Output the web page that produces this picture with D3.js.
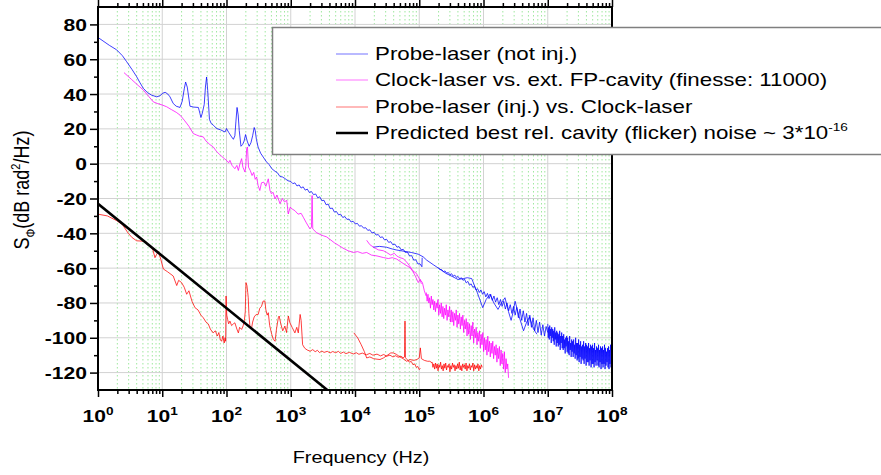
<!DOCTYPE html>
<html>
<head>
<meta charset="utf-8">
<script src="https://cdn.jsdelivr.net/npm/d3@7"></script>
<style>
body { margin: 0; background: #fff; }
svg { display: block; }
text { font-family: "Liberation Sans", Arial, sans-serif; fill: #000; }
</style>
</head>
<body>
<div id="chart"></div>
<script>
// ---- data: [frequency (Hz), S_phi (dB rad^2/Hz)] ----
const xExponents = [0, 1, 2, 3, 4, 5, 6, 7, 8];
const yTicks = [-120, -100, -80, -60, -40, -20, 0, 20, 40, 60, 80];
const yMinor = [-110, -90, -70, -50, -30, -10, 10, 30, 50, 70];

const seriesNames = [
    "Probe-laser (not inj.)",
    "Clock-laser vs. ext. FP-cavity (finesse: 11000)",
    "Probe-laser (inj.) vs. Clock-laser",
    "Predicted best rel. cavity (flicker) noise ~ 3*10"
];

// probe laser, not injected
const probeA = [[1,72.5],[1.5,68],[1.95,65.4],[2.4,62],[2.79,58.6],[3.4,54],[3.99,50],[4.5,46.5],[5.07,43.3],[5.9,40.8],[6.8,39.4],[8.2,38.4],[9.2,39],[10.2,40.5],[11.1,41],[12.2,40],[13.2,38.4],[14.8,34.6],[16.5,33],[18.9,32.3],[20.5,36],[22,43],[23.1,46.9],[24.5,44],[27,33],[31,32.5],[36.5,32.3],[38.5,29],[40,26.5],[42,29],[45,34],[47,44],[49,49.8],[51,42],[54.3,25.4],[58,23],[63,22],[70,20.2],[80,19.5],[95,18.2],[100,20.2],[108,18],[120,15.4],[128,14],[135,16],[140,24],[146,32.3],[152,28],[158,19],[168,10],[178,11],[188,13],[198,16.7],[210,13],[225,10],[240,12],[255,16],[270,20.8],[280,19],[292,14],[310,9.6],[340,6],[373,3.8],[420,1],[460,-0.5],[508,-2.9],[570,-4.4],[620,-5.2],[680,-7.4],[740,-7.6],[810,-8.5],[900,-9.8],[1000,-10.2],[1080,-11.5],[1160,-11],[1250,-12.8],[1350,-12.2],[1450,-14],[1560,-13.3],[1680,-15.2],[1810,-14.6],[1950,-16.6],[2100,-16],[2260,-17.8],[2440,-17.4],[2630,-19.6],[2830,-19],[3050,-21.3],[3290,-21],[3550,-23.6],[3820,-23.2],[4120,-25.8],[4440,-25.5],[4780,-27.8],[5150,-27.5],[5550,-29.4],[5980,-29],[6450,-30.9],[6950,-30.4],[7490,-32],[8070,-31.8],[8700,-33.5],[9370,-33.1],[10100,-34.6],[10900,-34.3],[11700,-35.9],[12600,-35.6],[13600,-37],[14700,-36.8],[15800,-38.3],[17000,-38],[18400,-39.8],[19800,-39.4],[21300,-41],[23000,-40.7],[24800,-42.4],[26700,-42],[28800,-43.8],[31000,-43.4],[33400,-45.2],[36000,-44.8],[38800,-46.6],[41800,-46.2],[45000,-48],[48500,-47.6],[52300,-49.5],[56400,-49.2],[60800,-51],[65500,-50.8],[70600,-53],[76100,-52.8],[82000,-55.4],[88400,-55.2],[95300,-57.6],[102700,-57.5],[110000,-59.2],[111000,-54]];
const probeB = [[19000,-48],[24000,-47.5],[31000,-48],[38000,-49],[44600,-49.6],[52000,-50],[60000,-50.4],[75000,-51],[96600,-52],[115000,-53.5],[130600,-55.4],[165000,-58],[210000,-60.6],[260000,-63],[335000,-65],[400000,-66.5],[485000,-66],[560000,-65.5],[655000,-66],[800000,-74],[972000,-82.7],[1100000,-78],[1260000,-75],[1450000,-80],[1680000,-83.7],[1900000,-80],[2160000,-77],[2450000,-85],[2690000,-90],[2900000,-85],[3100000,-79],[3600000,-88],[4200000,-96],[4700000,-91],[5200000,-88],[6000000,-95],[6800000,-98]];
// analyser sweeps, samples equally spaced in log10(f) between the two exponents
const probeTail1Range = [5.3, 7.0];
const probeTail1 = [-60.0,-60.8,-60.9,-62.0,-61.6,-62.9,-62.5,-63.8,-63.2,-64.6,-64.0,-65.3,-64.8,-66.2,-65.5,-67.0,-66.4,-68.5,-67.6,-69.8,-69.0,-71.0,-70.4,-72.6,-71.8,-74.0,-72.5,-75.0,-73.5,-76.5,-74.5,-77.5,-75.0,-78.5,-76.0,-79.5,-77.0,-81.0,-78.0,-82.0,-79.0,-83.5,-80.0,-84.5,-81.0,-86.0,-82.0,-87.0,-82.5,-88.5,-83.5,-90.0,-84.5,-91.0,-86.0,-93.0,-87.0,-94.0,-88.5,-96.0,-90.0,-97.0,-91.0,-98.5,-92.5,-99.0,-93.5,-97.0];
const probeTail2Range = [7.0, 8.0];
const probeTail2 = [-92,-100,-94,-101,-93,-99,-95,-103,-94,-100,-95,-102,-96,-104,-94,-101,-97,-105,-96,-103,-97,-105,-98,-104,-96,-107,-99,-103,-97,-106,-99,-107,-98,-106,-101,-109,-100,-105,-99,-108,-100,-109,-102,-110,-99,-107,-103,-111,-101,-108,-102,-111,-101,-109,-104,-112,-100,-110,-103,-113,-103,-112,-101,-114,-104,-111,-102,-115,-105,-112,-104,-113,-102,-115,-105,-112,-103,-116,-104,-114,-105,-114,-103,-116,-106,-113,-104,-117,-105,-115,-104,-115,-106,-117,-103,-114,-107,-116,-105,-113,-106,-116,-104,-117,-107,-114,-105,-118,-106,-115,-105,-117,-107,-115,-104,-118,-106,-116,-108,-114,-106,-117,-105,-118,-107,-115,-104,-117,-109,-113];

// clock laser vs. external FP cavity
const clockA = [[2.54,52.3],[3.3,48.5],[4.2,45],[5.07,42.3],[6.2,38.5],[7.26,35.5],[8.5,34.5],[10,33.7],[11.7,32.7],[14,31],[16.5,29.5],[18.9,27.9],[22,25],[26,21.5],[30.4,17.3],[34,16.5],[38,15.8],[43.5,15.4],[48,13],[55,11],[62.3,9.6],[70,7],[77,5.5],[84.2,4.2],[92,3],[100,1.9],[108,0.5],[113,1.9],[122,-1],[135,-2.9],[145,-1],[153,-3.9],[162,0],[172,2.9],[180,-2],[194,-4.8],[200,-1],[206,8.7],[212,9.6],[220,-2],[235,-4],[250,-6.8],[265,-5],[280,-9],[295,-7.7],[310,-12.5],[330,-15.4],[350,-11],[380,-10.6],[410,-13],[447,-8.7],[475,-15.4],[500,-17.3],[530,-16.4],[570,-20.2],[610,-18],[681,-23],[740,-20],[800,-22],[865,-21],[915,-28.9],[980,-25],[1050,-26],[1160,-27],[1300,-29],[1450,-28.5],[1570,-30.8],[1750,-34],[1990,-37.5],[2100,-36.5],[2150,-18.3],[2200,-37.5],[2500,-39.5],[2800,-40.5],[3210,-41.4],[3600,-42],[4080,-43.5],[4800,-45.5],[5600,-47],[6500,-48.5],[7800,-50],[9400,-51],[11000,-50.5],[13000,-51.5],[15200,-51],[18000,-52.5],[22000,-53],[27600,-53.9],[33000,-54.5],[38000,-54],[44600,-54.8],[52000,-56.5],[60000,-58],[71800,-59.7],[80000,-62],[88000,-65],[96600,-68.3],[103000,-66.5],[108000,-69]];
const clockB = [[15200,-44],[17000,-46.5],[19500,-48],[23000,-49.5],[27600,-50],[31000,-51],[36000,-52.5],[41000,-51.5],[44600,-53],[50000,-54],[56000,-54.5],[62000,-56],[70000,-58.5],[80000,-61.6],[90000,-63],[100000,-66],[112000,-68.3],[120000,-73],[128000,-76]];
const clockTailRange = [5.11, 6.39];
const clockTail = [-74,-79,-75,-80,-77,-83,-76,-81,-78,-84,-79,-85,-80,-83,-78,-87,-81,-86,-80,-88,-82,-89,-83,-87,-81,-90,-84,-88,-82,-91,-84,-91,-85,-93,-86,-90,-84,-94,-87,-92,-86,-95,-88,-93,-87,-97,-90,-95,-89,-99,-91,-98,-92,-101,-93,-99,-91,-103,-95,-100,-94,-104,-97,-102,-96,-106,-98,-104,-97,-108,-100,-107,-101,-110,-99,-108,-102,-111,-103,-109,-102,-112,-105,-110,-104,-114,-106,-112,-105,-116,-107,-115,-109,-118,-108,-120,-112,-118,-115,-123];

// probe laser (injected) vs. clock laser
const injA = [[1,-29],[1.4,-30],[1.95,-32.7],[2.4,-35],[2.96,-40],[3.4,-42.5],[4,-44.3],[5,-44.5],[5.7,-45.2],[6.4,-47.5],[7.1,-49],[7.7,-54],[8.2,-52],[8.7,-50.5],[9.5,-55],[10.4,-60.5],[12,-62],[14.8,-64.5],[16.8,-70],[18,-67],[20,-68.3],[22,-71],[24,-75],[26,-73],[29,-79],[32.3,-82.7],[36,-84],[40,-87],[43.5,-88.5],[48,-91],[52,-92],[56,-95],[62,-97.2],[67,-96],[72,-99],[76,-97],[80,-101],[84,-102],[88,-99],[92,-103],[95,-100],[97,-102],[98.5,-76],[101,-87],[104,-89.4],[108,-92],[113,-90.4],[120,-93],[128,-92],[135,-91.4],[145,-95],[153,-97.2],[160,-94],[172,-95.2],[182,-93],[190,-90],[196,-85],[201,-68.3],[208,-70],[214,-74],[218,-77],[223,-86],[232,-94],[246,-94.3],[255,-91],[270,-88],[290,-86.6],[311,-86.6],[330,-83],[350,-82],[372,-78.9],[396,-78.9],[410,-84],[430,-87],[447,-85.6],[470,-93],[506,-98],[537,-101],[570,-102],[600,-95],[640,-88.5],[660,-87.5],[700,-92],[750,-96],[810,-93.3],[860,-97],[917,-87.5],[970,-91.4],[1050,-94],[1160,-97.2],[1240,-94],[1310,-97.2],[1400,-86.6],[1450,-90],[1530,-104],[1650,-106],[1800,-107],[2000,-107.7],[2200,-106.8],[2400,-108],[2600,-107.2],[2800,-108.5],[3050,-107.6],[3300,-108.4],[3700,-107.8],[4100,-108.7],[4500,-107.9],[5000,-108.6],[5500,-107.8],[6000,-109],[6600,-108.2],[7200,-109.1],[8200,-108.4],[9400,-109.3],[10500,-108.6],[11500,-109.5],[13000,-108.8],[15000,-109.8],[17000,-109],[19000,-110],[22000,-109.4],[25000,-110.4],[28000,-109.6],[31000,-110.6],[35000,-110],[39000,-111],[43000,-110.3],[47000,-111.2],[52000,-110.6],[56000,-111.5],[59000,-111],[60000,-90.4],[61000,-111.5],[66000,-112.8],[70000,-114],[75000,-113.6],[80000,-115.5],[85000,-115],[90000,-117],[95000,-116.5],[100000,-118.3],[104000,-117.5]];
const injB = [[9600,-97.2],[11000,-100],[12500,-104],[14000,-108],[15200,-111.6],[17000,-111],[19500,-112],[22000,-112.3],[24500,-112.5],[28000,-111.5],[32000,-110],[36000,-108.7],[39400,-108.7],[44000,-109.5],[50000,-111],[56000,-112],[63600,-113.5],[72000,-112.5],[82000,-113],[92000,-112.5],[100000,-111.5],[104000,-105.8],[108000,-112],[120000,-113],[135000,-113.5],[146000,-113.5],[160000,-114.5]];
const injTailRange = [5.2, 5.98];
const injTail = [-114,-117,-115,-118,-114.5,-117.5,-115,-119,-115.5,-117,-114,-118,-116,-119,-115,-117.5,-114.5,-118.5,-116,-117,-115,-119.5,-116,-118,-114.5,-117,-115.5,-119,-116,-118,-115,-117.5,-114,-118.5,-116,-119,-115,-117,-115.5,-118,-114.5,-119,-116,-117.5,-115,-118.5,-116,-117,-114.5,-119,-115.5,-118,-116,-117.5,-115,-119,-116,-118,-115.5,-117];

// predicted flicker floor
const predicted = [[1,-23],[4000,-131]];

// ---- drawing ----
const W = 881, H = 475;
const box = {left: 98, right: 612, top: 7, bottom: 390};
const stretch = 1.24;   // the original export is stretched sideways

const x = d3.scaleLog().domain([1, 1e8]).range([box.left, box.right]);
const y = d3.scaleLinear().domain([-130, 90]).range([box.bottom, box.top]);

const svg = d3.select("#chart").append("svg")
    .attr("width", W)
    .attr("height", H);

svg.append("rect").attr("width", W).attr("height", H).attr("fill", "#fff");

svg.append("clipPath").attr("id", "plot-clip")
    .append("rect")
    .attr("x", box.left).attr("y", box.top)
    .attr("width", box.right - box.left).attr("height", box.bottom - box.top);

const isDecade = v => Math.abs(Math.log10(v) - Math.round(Math.log10(v))) < 1e-9;
const decades = xExponents.map(e => Math.pow(10, e));
const minorX = x.ticks().filter(v => !isDecade(v));

// grid
const grid = svg.append("g").attr("id", "grid");
grid.selectAll("line.minor")
    .data(minorX)
    .join("line")
    .attr("class", "minor")
    .attr("x1", d => x(d)).attr("x2", d => x(d))
    .attr("y1", box.top).attr("y2", box.bottom)
    .attr("stroke", "#9fe89f")
    .attr("stroke-width", 1)
    .attr("stroke-dasharray", "1.5,2.5");
grid.selectAll("line.vmajor")
    .data(decades.slice(1, -1))
    .join("line")
    .attr("class", "vmajor")
    .attr("x1", d => x(d)).attr("x2", d => x(d))
    .attr("y1", box.top).attr("y2", box.bottom)
    .attr("stroke", "#d2d2d2");
grid.selectAll("line.hmajor")
    .data(yTicks)
    .join("line")
    .attr("class", "hmajor")
    .attr("x1", box.left).attr("x2", box.right)
    .attr("y1", d => y(d)).attr("y2", d => y(d))
    .attr("stroke", "#d2d2d2");

// series
const line = d3.line().x(d => x(d[0])).y(d => y(d[1]));
const fromGrid = (range, vals) => vals.map((v, i) =>
    [Math.pow(10, range[0] + (range[1] - range[0]) * i / (vals.length - 1)), v]);

const traces = [
    {data: probeA, colour: "#0000ff"},
    {data: probeB, colour: "#0000ff"},
    {data: fromGrid(probeTail1Range, probeTail1), colour: "#0000ff"},
    {data: fromGrid(probeTail2Range, probeTail2), colour: "#0000ff"},
    {data: clockA, colour: "#ff00ff"},
    {data: clockB, colour: "#ff00ff"},
    {data: fromGrid(clockTailRange, clockTail), colour: "#ff00ff"},
    {data: injA, colour: "#ff0000"},
    {data: injB, colour: "#ff0000"},
    {data: fromGrid(injTailRange, injTail), colour: "#ff0000"}
];

const plot = svg.append("g").attr("clip-path", "url(#plot-clip)");
plot.selectAll("path.trace")
    .data(traces)
    .join("path")
    .attr("class", "trace")
    .attr("d", d => line(d.data))
    .attr("fill", "none")
    .attr("stroke", d => d.colour)
    .attr("stroke-width", 1)
    .attr("stroke-opacity", 0.75)
    .attr("stroke-linejoin", "round");

plot.append("path")
    .attr("d", line(predicted))
    .attr("fill", "none")
    .attr("stroke", "#000")
    .attr("stroke-width", 2.6);

// axes: ticks only, frame drawn by hand
function ticks(axis, values, size, transform) {
    const g = svg.append("g")
        .attr("transform", transform)
        .call(axis.tickValues(values).tickSize(size).tickFormat(""));
    g.select(".domain").remove();
    g.selectAll("line").attr("stroke", "#000").attr("stroke-width", 1.5);
}
ticks(d3.axisBottom(x), decades, 7, `translate(0,${box.bottom})`);
ticks(d3.axisBottom(x), minorX, 4, `translate(0,${box.bottom})`);
ticks(d3.axisTop(x), decades, 7, `translate(0,${box.top})`);
ticks(d3.axisTop(x), minorX, 4, `translate(0,${box.top})`);
ticks(d3.axisLeft(y), yTicks, 8, `translate(${box.left},0)`);
ticks(d3.axisLeft(y), yMinor, 4, `translate(${box.left},0)`);

svg.append("rect")
    .attr("x", box.left).attr("y", box.top)
    .attr("width", box.right - box.left).attr("height", box.bottom - box.top)
    .attr("fill", "none")
    .attr("stroke", "#000")
    .attr("stroke-width", 2);

const stext = (px, py, size, weight, anchor) => svg.append("text")
    .attr("transform", `translate(${px},${py}) scale(${stretch},1)`)
    .attr("font-size", size)
    .attr("font-weight", weight)
    .attr("text-anchor", anchor);

// tick labels
yTicks.forEach(v => {
    stext(87, y(v) + 6.5, 17, "bold", "end").text(v);
});
xExponents.forEach(e => {
    const t = stext(x(Math.pow(10, e)), 422, 17, "bold", "middle");
    t.append("tspan").text("10");
    t.append("tspan").attr("font-size", 11).attr("dy", -7).text(e);
});

// axis titles
stext(361, 463, 16, "normal", "middle").text("Frequency (Hz)");

const yTitle = svg.append("text")
    .attr("transform", `translate(29,190) scale(${stretch},1) rotate(-90)`)
    .attr("font-size", 18)
    .attr("text-anchor", "middle");
yTitle.append("tspan").text("S");
yTitle.append("tspan").attr("font-size", 11).attr("dy", 5).text("Φ");
yTitle.append("tspan").attr("dy", -5).text("(dB rad");
yTitle.append("tspan").attr("font-size", 11).attr("dy", -7).text("2");
yTitle.append("tspan").attr("dy", 7).text("/Hz)");

// legend
svg.append("rect")
    .attr("x", 272.5).attr("y", 27.5)
    .attr("width", 640).attr("height", 127)
    .attr("fill", "#fff")
    .attr("stroke", "#7f7f7f")
    .attr("stroke-width", 1.5);

const legendColours = ["#0000ff", "#ff00ff", "#ff0000", "#000"];
seriesNames.forEach((name, i) => {
    const base = 59.5 + 26.6 * i;
    svg.append("line")
        .attr("x1", 336).attr("x2", 368)
        .attr("y1", Math.round(base - 6)).attr("y2", Math.round(base - 6))
        .attr("stroke", legendColours[i])
        .attr("stroke-width", i === 3 ? 2.5 : 1)
        .attr("stroke-opacity", i === 3 ? 1 : 0.55);
    const t = stext(375, base, 18, "normal", "start");
    t.append("tspan").text(name);
    if (i === 3) {
        t.append("tspan").attr("font-size", 11).attr("dy", -8).text("-16");
    }
});
</script>
</body>
</html>
